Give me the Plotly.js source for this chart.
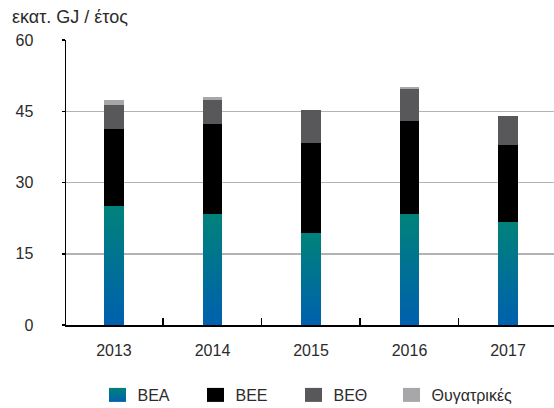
<!DOCTYPE html>
<html>
<head>
<meta charset="utf-8">
<script src="https://cdn.plot.ly/plotly-3.0.1.min.js"></script>
<style>html,body{margin:0;padding:0;background:#fff;}#chart{width:554px;height:408px;}</style>
</head>
<body>
<div id="chart"></div>
<script>
// Data (εκατ. GJ / έτος)
const years = ['2013', '2014', '2015', '2016', '2017'];
const bea = [25.0, 23.4, 19.4, 23.4, 21.7];
const bee = [16.3, 18.9, 18.9, 19.5, 16.2];
const beth = [5.0, 5.1, 7.0, 6.8, 6.1];
const subs = [1.1, 0.7, 0, 0.4, 0];
const seriesNames = ['ΒΕΑ', 'ΒΕΕ', 'ΒΕΘ', 'Θυγατρικές'];
const yTicks = [0, 15, 30, 45, 60];

const FONT = 'Liberation Sans, Arial, sans-serif';
const TXT = '#2b2b2b';

const mk = (name, y, color) => ({
  type: 'bar', name: name, x: years, y: y,
  marker: {color: color, line: {width: 0}},
  width: 0.2, hoverinfo: 'skip'
});

const data = [
  mk(seriesNames[0], bea, '#00717f'),
  mk(seriesNames[1], bee, '#000000'),
  mk(seriesNames[2], beth, '#58585a'),
  mk(seriesNames[3], subs, '#a7a7a9')
];

const layout = {
  width: 554, height: 408,
  margin: {l: 66, r: 0, t: 40, b: 83, autoexpand: false},
  paper_bgcolor: '#ffffff', plot_bgcolor: '#ffffff',
  barmode: 'stack',
  font: {family: FONT, size: 16, color: TXT},
  title: {text: 'εκατ. GJ / έτος', x: 12/554, xanchor: 'left', xref: 'container',
          y: 1 - 17/408, yanchor: 'middle', yref: 'container',
          font: {family: FONT, size: 18, color: TXT}},
  xaxis: {
    type: 'category', range: [-0.487, 4.467], fixedrange: true,
    showline: true, linecolor: '#000', linewidth: 1.5,
    ticks: 'inside', tickson: 'boundaries', ticklen: 7, tickcolor: '#000', tickwidth: 1.5,
    showgrid: false, zeroline: false,
    tickfont: {family: FONT, size: 16, color: TXT},
    ticklabelstandoff: 10
  },
  yaxis: {
    range: [0, 60], tickvals: yTicks, ticktext: yTicks.map(String), fixedrange: true,
    showline: true, linecolor: '#000', linewidth: 1.5,
    ticks: 'outside', ticklen: 3, tickcolor: '#000', tickwidth: 1.5,
    showgrid: true, gridcolor: '#b3b3b3', gridwidth: 1.5, zeroline: false,
    tickfont: {family: FONT, size: 16, color: TXT},
    ticklabelstandoff: 25
  },
  showlegend: true,
  legend: {
    orientation: 'h', x: (97.5 - 66) / 488, xanchor: 'left',
    y: (325 - 395) / 285, yanchor: 'middle',
    entrywidth: 53, entrywidthmode: 'pixels', traceorder: 'normal',
    font: {family: FONT, size: 16, color: TXT}, bgcolor: 'rgba(0,0,0,0)'
  }
};

Plotly.newPlot('chart', data, layout, {displayModeBar: false, staticPlot: true}).then(function(gd) {
  const svgNS = 'http://www.w3.org/2000/svg';
  const svg = gd.querySelector('.main-svg');
  let defs = svg.querySelector('defs');
  if (!defs) { defs = document.createElementNS(svgNS, 'defs'); svg.insertBefore(defs, svg.firstChild); }
  const grad = document.createElementNS(svgNS, 'linearGradient');
  grad.setAttribute('id', 'beaGrad');
  grad.setAttribute('x1', '0'); grad.setAttribute('y1', '0');
  grad.setAttribute('x2', '0'); grad.setAttribute('y2', '1');
  [['0%', '#00827a'], ['100%', '#0060ae']].forEach(function(s) {
    const st = document.createElementNS(svgNS, 'stop');
    st.setAttribute('offset', s[0]); st.setAttribute('stop-color', s[1]);
    grad.appendChild(st);
  });
  defs.appendChild(grad);
  const traces = gd.querySelectorAll('.barlayer .trace');
  if (traces.length) {
    traces[0].querySelectorAll('path').forEach(function(p) { p.style.fill = 'url(#beaGrad)'; });
  }
  gd.querySelectorAll('.legend .traces').forEach(function(t, i) {
    t.querySelectorAll('.legendpoints path').forEach(function(p) {
      p.setAttribute('d', 'M8.5,7H-8.5V-7H8.5Z');
      if (i === 0) p.style.fill = 'url(#beaGrad)';
    });
  });
  gd.querySelectorAll('.legend [clip-path]').forEach(function(el) { el.removeAttribute('clip-path'); });
  const lg = gd.querySelector('.legend');
  if (lg) lg.removeAttribute('clip-path');
  const bg = gd.querySelector('.legend .bg');
  if (bg) bg.setAttribute('width', '480');
});
</script>
</body>
</html>
